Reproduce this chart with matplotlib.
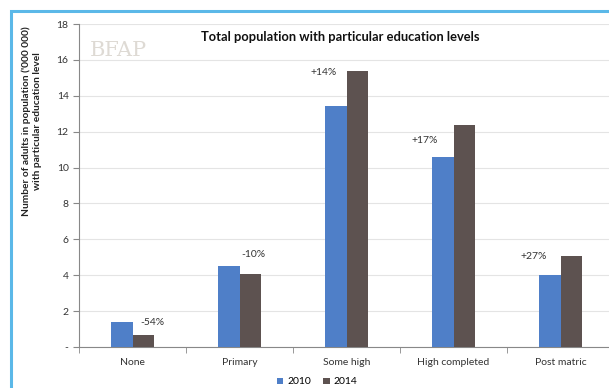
import matplotlib.pyplot as plt
from matplotlib.patches import Rectangle
import numpy as np

plt.rcParams['font.family'] = ['Lato', 'DejaVu Sans']

categories = ['None', 'Primary', 'Some high', 'High completed', 'Post matric']
vals_2010 = [1.41, 4.53, 13.43, 10.57, 4.01]
vals_2014 = [0.67, 4.07, 15.38, 12.37, 5.09]
changes = ['-54%', '-10%', '+14%', '+17%', '+27%']
yticks = [0, 2, 4, 6, 8, 10, 12, 14, 16, 18]
ytick_labels = ['-', '2', '4', '6', '8', '10', '12', '14', '16', '18']

blue = '#4f7fc8'
brown = '#5d5250'

fig = plt.figure(figsize=(6.09, 3.88), dpi=100)
ax = fig.add_axes([79/609, 1-347/388, 535/609, 323/388])

x = np.arange(len(categories))
w = 0.2
b1 = ax.bar(x - w/2, vals_2010, w, color=blue, label='2010', zorder=3)
b2 = ax.bar(x + w/2, vals_2014, w, color=brown, label='2014', zorder=3)

# change labels (data coords of left edge)
label_pos = [(0.07, 1.39), (1.02, 5.13), (1.66, 15.27), (2.61, 11.48), (3.63, 5.02)]
for txt, (lx, ly) in zip(changes, label_pos):
    ax.text(lx, ly, txt, fontsize=7.5, color='#333333', ha='left', va='center')

ax.set_xlim(-0.5, 4.5)
ax.set_ylim(0, 18)
ax.set_yticks(yticks)
ax.set_yticklabels(ytick_labels, fontsize=7.5, color='#333333')
ax.set_xticks(x)
ax.set_xticklabels(categories, fontsize=7.5, color='#333333')
ax.set_xticks(np.arange(-0.5, 5, 1), minor=True)
ax.tick_params(axis='x', which='major', length=0, pad=8)
ax.tick_params(axis='x', which='minor', length=4, color='#888888')
ax.tick_params(axis='y', length=4, color='#888888')
ax.grid(axis='y', color='#e4e4e4', linewidth=0.8, zorder=0)
for s in ['top', 'right']:
    ax.spines[s].set_visible(False)
ax.spines['left'].set_color('#888888')
ax.spines['bottom'].set_color('#888888')

fig.text(340/609, 1-37/388, 'Total population with particular education levels',
         fontsize=9.3, fontweight='bold', ha='center', va='center', color='#111111')
fig.text(32/609, 1-121/388,
         "Number of adults in population ('000 000)\nwith particular education level",
         fontsize=7.3, fontweight='bold', rotation=90, ha='center', va='center',
         color='#222222', linespacing=1.3)

# faint watermark
fig.text(118/609, 1-50/388, 'BFAP', fontsize=15, family='DejaVu Serif',
         color='#d6d1ca', alpha=0.8, ha='center', va='center')

fig.legend(handles=[b1, b2], labels=['2010', '2014'], loc='center',
           bbox_to_anchor=(317/609, 1-382/388), ncol=2, frameon=False,
           fontsize=7.5, handlelength=0.6, handleheight=0.6, columnspacing=1.2,
           handletextpad=0.4)

# light blue frame of the slide
fig.add_artist(Rectangle((11/609, -0.1), 1.2, 1-11/388 + 0.1,
                         transform=fig.transFigure, fill=False,
                         edgecolor='#5bb8e8', linewidth=2.2))

fig.savefig('out.png', dpi=100)
